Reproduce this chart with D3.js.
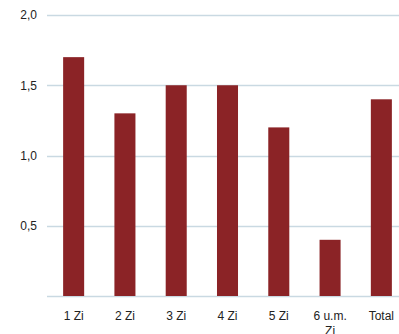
<!DOCTYPE html>
<html>
<head>
<meta charset="utf-8">
<script src="https://cdn.jsdelivr.net/npm/d3@7"></script>
<style>
  html, body { margin: 0; padding: 0; background: #fff; }
  svg { display: block; font-family: "Liberation Sans", Arial, sans-serif; }
</style>
</head>
<body>
<svg id="chart" width="399" height="334"></svg>
<script>
// Categories and values
const categories = ["1 Zi", "2 Zi", "3 Zi", "4 Zi", "5 Zi", "6 u.m. Zi", "Total"];
const values = [1.7, 1.3, 1.5, 1.5, 1.2, 0.4, 1.4];
const yTicks = [0.5, 1.0, 1.5, 2.0];

const svg = d3.select("#chart");
const width = 399, height = 334;

const x = d3.scaleBand()
  .domain(categories)
  .range([48, 407])
  .paddingInner(0.59)
  .paddingOuter(0.295);

const y = d3.scaleLinear()
  .domain([0, 2])
  .range([296, 15]);

const fmt = d => d3.format(".1f")(d).replace(".", ",");

// Horizontal gridlines (including baseline)
svg.append("g")
  .selectAll("line")
  .data([0].concat(yTicks))
  .join("line")
  .attr("x1", 47)
  .attr("x2", width)
  .attr("y1", d => Math.round(y(d)) + 0.5)
  .attr("y2", d => Math.round(y(d)) + 0.5)
  .attr("stroke", "#c9d9e2")
  .attr("stroke-width", 1.5);

// Y axis labels
const yAxis = d3.axisLeft(y).tickValues(yTicks).tickFormat(fmt).tickSize(0).tickPadding(0);
const gy = svg.append("g").attr("transform", "translate(37,0)").call(yAxis);
gy.select(".domain").remove();
gy.selectAll("text").attr("font-size", 12).attr("fill", "#222")
  .attr("font-family", "Liberation Sans, Arial, sans-serif");

// Bars
svg.append("g")
  .selectAll("rect")
  .data(values)
  .join("rect")
  .attr("x", (d, i) => x(categories[i]))
  .attr("width", x.bandwidth())
  .attr("y", d => y(d))
  .attr("height", d => y(0) - y(d))
  .attr("fill", "#8b2326");

// Category labels (wrapped to band width)
const xl = svg.append("g");
categories.forEach(c => {
  const cx = x(c) + x.bandwidth() / 2;
  const words = c.split(" ");
  const lines = [];
  // simple wrapping: break when text exceeds band step
  let cur = "";
  words.forEach(w => {
    const next = cur ? cur + " " + w : w;
    if (next.length > 6 && cur) { lines.push(cur); cur = w; } else cur = next;
  });
  lines.push(cur);
  const t = xl.append("text")
    .attr("text-anchor", "middle")
    .attr("font-size", 12)
    .attr("fill", "#222");
  lines.forEach((ln, i) => {
    t.append("tspan").attr("x", cx).attr("y", 320 + i * 15).text(ln);
  });
});
</script>
</body>
</html>
